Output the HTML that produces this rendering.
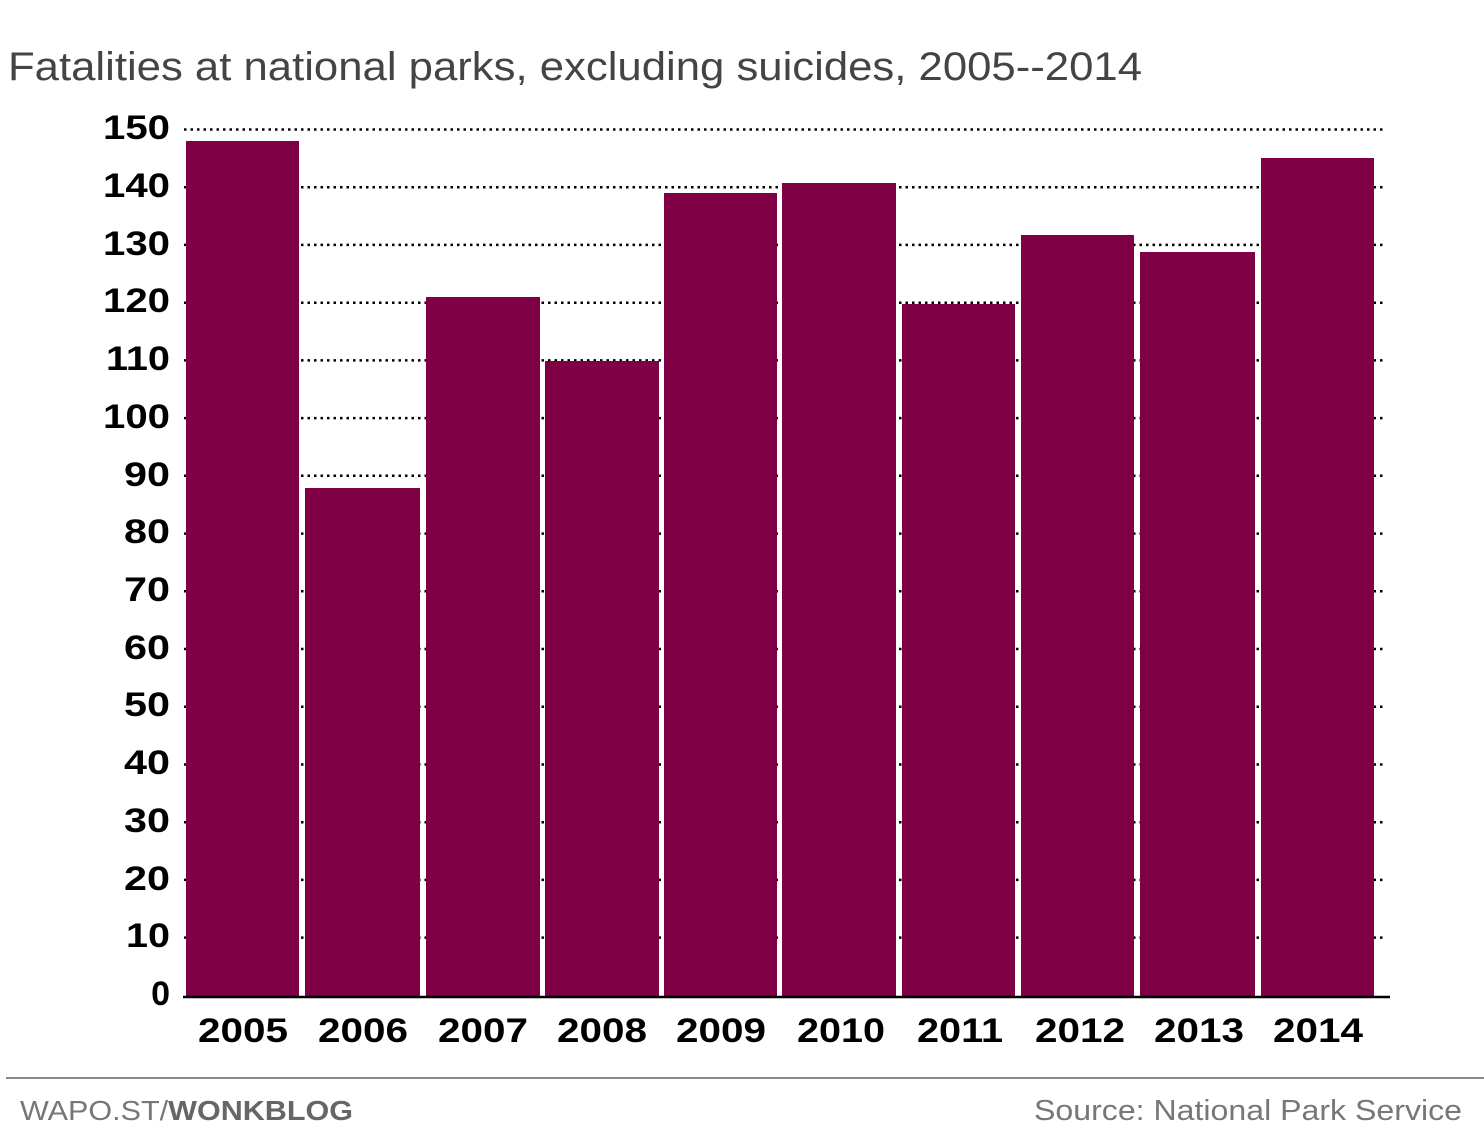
<!DOCTYPE html>
<html><head><meta charset="utf-8"><style>
html,body{margin:0;padding:0;background:#fff;}
svg{display:block}
</style></head><body>
<svg width="1484" height="1142" viewBox="0 0 1484 1142" xmlns="http://www.w3.org/2000/svg" font-family="Liberation Sans, sans-serif">
<rect width="1484" height="1142" fill="#fff"/>
<text x="8" y="80" font-size="40" fill="#444" textLength="1134" lengthAdjust="spacingAndGlyphs">Fatalities at national parks, excluding suicides, 2005--2014</text>
<g stroke="#000" stroke-width="2.5" stroke-dasharray="2.5 4">
<line x1="184" x2="1386" y1="129.5" y2="129.5"/>
<line x1="184" x2="1386" y1="187.2" y2="187.2"/>
<line x1="184" x2="1386" y1="244.9" y2="244.9"/>
<line x1="184" x2="1386" y1="302.7" y2="302.7"/>
<line x1="184" x2="1386" y1="360.4" y2="360.4"/>
<line x1="184" x2="1386" y1="418.1" y2="418.1"/>
<line x1="184" x2="1386" y1="475.8" y2="475.8"/>
<line x1="184" x2="1386" y1="533.6" y2="533.6"/>
<line x1="184" x2="1386" y1="591.3" y2="591.3"/>
<line x1="184" x2="1386" y1="649.0" y2="649.0"/>
<line x1="184" x2="1386" y1="706.7" y2="706.7"/>
<line x1="184" x2="1386" y1="764.5" y2="764.5"/>
<line x1="184" x2="1386" y1="822.2" y2="822.2"/>
<line x1="184" x2="1386" y1="879.9" y2="879.9"/>
<line x1="184" x2="1386" y1="937.6" y2="937.6"/>
</g>
<g font-size="34" font-weight="bold" fill="#000" text-anchor="end">
<text x="170" y="139" textLength="67" lengthAdjust="spacingAndGlyphs">150</text><text x="170" y="197" textLength="67" lengthAdjust="spacingAndGlyphs">140</text><text x="170" y="255" textLength="67" lengthAdjust="spacingAndGlyphs">130</text>
<text x="170" y="312" textLength="67" lengthAdjust="spacingAndGlyphs">120</text><text x="170" y="370" textLength="64" lengthAdjust="spacingAndGlyphs">110</text><text x="170" y="428" textLength="67" lengthAdjust="spacingAndGlyphs">100</text>
<text x="170" y="486" textLength="46" lengthAdjust="spacingAndGlyphs">90</text><text x="170" y="543" textLength="46" lengthAdjust="spacingAndGlyphs">80</text><text x="170" y="601" textLength="46" lengthAdjust="spacingAndGlyphs">70</text>
<text x="170" y="659" textLength="46" lengthAdjust="spacingAndGlyphs">60</text><text x="170" y="716" textLength="46" lengthAdjust="spacingAndGlyphs">50</text><text x="170" y="774" textLength="46" lengthAdjust="spacingAndGlyphs">40</text>
<text x="170" y="832" textLength="46" lengthAdjust="spacingAndGlyphs">30</text><text x="170" y="890" textLength="46" lengthAdjust="spacingAndGlyphs">20</text><text x="170" y="947" textLength="44" lengthAdjust="spacingAndGlyphs">10</text>
<text x="170" y="1005">0</text>
</g>
<g fill="#800046">
<rect x="186" y="141" width="113" height="855"/>
<rect x="305" y="488" width="115" height="508"/>
<rect x="426" y="297" width="114" height="699"/>
<rect x="545" y="361" width="114" height="635"/>
<rect x="664" y="193" width="113" height="803"/>
<rect x="782" y="183" width="114" height="813"/>
<rect x="902" y="304" width="113" height="692"/>
<rect x="1021" y="235" width="113" height="761"/>
<rect x="1140" y="252" width="115" height="744"/>
<rect x="1261" y="158" width="113" height="838"/>
</g>
<line x1="183" x2="1390" y1="997" y2="997" stroke="#000" stroke-width="2.5"/>
<g font-size="34" font-weight="bold" fill="#000" text-anchor="middle">
<text x="243" y="1042" textLength="90" lengthAdjust="spacingAndGlyphs">2005</text><text x="363" y="1042" textLength="90" lengthAdjust="spacingAndGlyphs">2006</text><text x="483" y="1042" textLength="90" lengthAdjust="spacingAndGlyphs">2007</text>
<text x="602" y="1042" textLength="90" lengthAdjust="spacingAndGlyphs">2008</text><text x="721" y="1042" textLength="90" lengthAdjust="spacingAndGlyphs">2009</text><text x="841" y="1042" textLength="88" lengthAdjust="spacingAndGlyphs">2010</text>
<text x="960" y="1042" textLength="86" lengthAdjust="spacingAndGlyphs">2011</text><text x="1080" y="1042" textLength="90" lengthAdjust="spacingAndGlyphs">2012</text><text x="1199" y="1042" textLength="90" lengthAdjust="spacingAndGlyphs">2013</text>
<text x="1318" y="1042" textLength="90" lengthAdjust="spacingAndGlyphs">2014</text>
</g>
<line x1="6" x2="1484" y1="1078" y2="1078" stroke="#888" stroke-width="2"/>
<text x="20" y="1120" font-size="28" fill="#777" textLength="333" lengthAdjust="spacingAndGlyphs">WAPO.ST/<tspan font-weight="bold" fill="#666">WONKBLOG</tspan></text>
<text x="1462" y="1120" font-size="29" fill="#777" text-anchor="end" textLength="428" lengthAdjust="spacingAndGlyphs">Source: National Park Service</text>
</svg>
</body></html>
